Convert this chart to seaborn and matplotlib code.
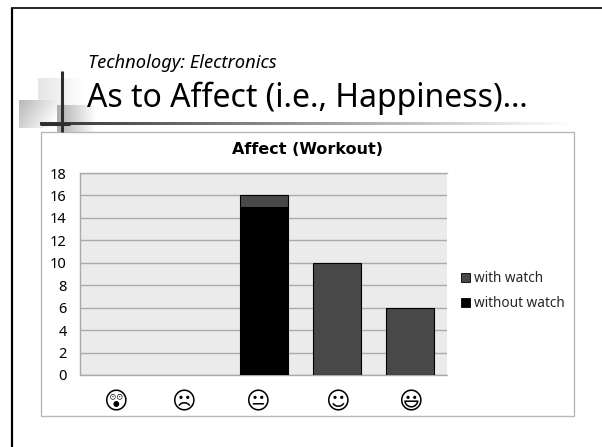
import numpy as np
import pandas as pd
import matplotlib
matplotlib.use('Agg')
import matplotlib.pyplot as plt
import matplotlib.transforms as mtrans
from matplotlib.patches import Rectangle
import seaborn as sns

# values
faces = ['\U0001F632', '\u2639', '\U0001F610', '\u263A', '\U0001F603']
without_watch = [0, 0, 15, 0, 0]
with_watch = [0, 0, 1, 10, 6]
y_ticks = list(range(0, 20, 2))
face_shift_px = [-2, -7, -6, 0, 0]

sns.set_theme(style='white')
plt.rcParams['font.family'] = ['Noto Sans', 'DejaVu Sans']

W, H = 602, 447
fig = plt.figure(figsize=(W / 100, H / 100), dpi=100, facecolor='white')

# background layer in pixel coordinates
bg = fig.add_axes([0, 0, 1, 1], zorder=0)
bg.axis('off')


def grad(x0, x1, y0, y1, start, end, vertical=0.0):
    ramp = np.linspace(start, end, 64)[None, :]
    if vertical:
        ramp = ramp + np.linspace(0, vertical, 32)[:, None]
    bg.imshow(np.clip(ramp, 0, 1), extent=(x0, x1, y1, y0), cmap='gray', vmin=0, vmax=1,
              aspect='auto', interpolation='bilinear')


grad(38, 86, 78, 106, 0.90, 1.0)
grad(57, 96, 105, 133, 0.68, 1.0)
grad(19, 57, 100, 128, 0.72, 0.93, vertical=0.1)
grad(40, 578, 122, 125, 0.2, 1.0)
bg.set_xlim(0, W)
bg.set_ylim(H, 0)
bg.plot([62, 62], [71, 132], color='#2e2e2e', lw=2.2, solid_capstyle='butt')
bg.plot([40, 70], [123.5, 123.5], color='#2e2e2e', lw=2.2, solid_capstyle='butt')
bg.plot([12, 12], [H, 7.5], color='black', lw=1.6, solid_capstyle='butt')
bg.plot([11.2, W], [7.5, 7.5], color='black', lw=1.2, solid_capstyle='butt')
bg.add_patch(Rectangle((41, 132), 533, 284, facecolor='white', edgecolor='#b8b8b8', lw=1.0))

bg.text(88, 68, 'Technology: Electronics', fontsize=13.2, style='italic', color='black')
bg.text(87, 107, 'As to Affect (i.e., Happiness)…', fontsize=23, color='black')
bg.text(307.5, 149.5, 'Affect (Workout)', fontsize=11.5, fontweight='bold', color='black',
        family='DejaVu Sans', ha='center', va='center')

# chart
df = pd.DataFrame({'face': faces, 'without': without_watch, 'with': with_watch})
ax = fig.add_axes([80.5 / W, 1 - 375 / H, (447 - 80.5) / W, (375 - 173) / H], zorder=1)
ax.set_facecolor('#ebebeb')
sns.barplot(data=df, x='face', y='without', ax=ax, color='black', saturation=1,
            width=0.655, edgecolor='black', linewidth=0.8, zorder=3)
sns.barplot(data=df, x='face', y='with', ax=ax, color='#484848', saturation=1,
            width=0.655, edgecolor='black', linewidth=0.8, zorder=3,
            bottom=df['without'].to_numpy())
for p in ax.patches:
    if p.get_height() == 0:
        p.set_visible(False)

ax.set_ylim(0, 18)
ax.set_xlim(-0.5, 4.5)
ax.set_yticks(y_ticks)
ax.set_xlabel('')
ax.set_ylabel('')
ax.grid(axis='y', color='#aaaaaa', lw=1.0, zorder=0)
ax.set_axisbelow(True)
for s in ['top', 'bottom', 'left']:
    ax.spines[s].set_color('#aaaaaa')
    ax.spines[s].set_linewidth(1.0)
ax.spines['right'].set_visible(False)
ax.tick_params(axis='y', length=0, labelsize=10.5, labelcolor='black', pad=10)
ax.tick_params(axis='x', length=0, labelsize=17, labelcolor='black', pad=11)

ax.set_xticks(range(len(faces)))
ax.set_xticklabels(faces, fontfamily='DejaVu Sans')
for lab, dx in zip(ax.get_xticklabels(), face_shift_px):
    lab.set_transform(lab.get_transform() + mtrans.ScaledTranslation(dx / 100, 0, fig.dpi_scale_trans))

# legend
handles = [Rectangle((0, 0), 1, 1, facecolor='#484848', edgecolor='black', lw=0.6),
           Rectangle((0, 0), 1, 1, facecolor='black', edgecolor='black', lw=0.6)]
fig.legend(handles, ['with watch', 'without watch'], loc='center left',
           bbox_to_anchor=(461 / W, 1 - 291 / H), frameon=False, fontsize=9.8,
           handlelength=0.65, handleheight=0.65, handletextpad=0.3, labelspacing=0.75,
           borderpad=0, borderaxespad=0)

fig.savefig('out.png', dpi=100)
